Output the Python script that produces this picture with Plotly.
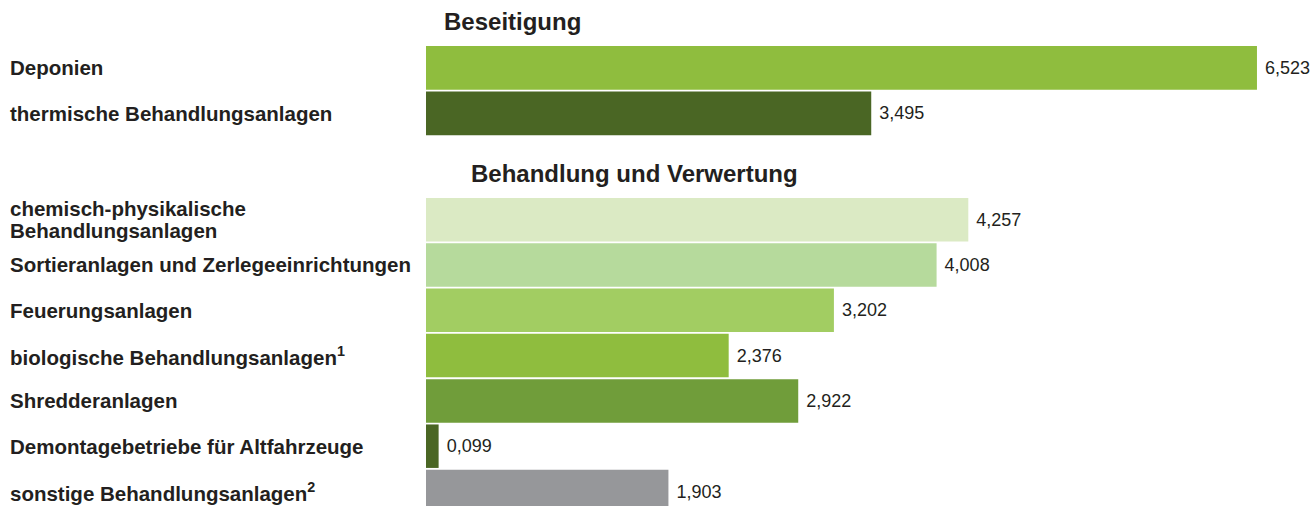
import plotly.graph_objects as go
from plotly.subplots import make_subplots

# Beseitigung
disp_labels = ["Deponien", "thermische Behandlungsanlagen"]
disp_values = [6.523, 3.495]
disp_colors = ["#8fbd3e", "#4a6624"]

# Behandlung und Verwertung
treat_labels = [
    "chemisch-physikalische<br>Behandlungsanlagen",
    "Sortieranlagen und Zerlegeeinrichtungen",
    "Feuerungsanlagen",
    "biologische Behandlungsanlagen<sup>1</sup>",
    "Shredderanlagen",
    "Demontagebetriebe für Altfahrzeuge",
    "sonstige Behandlungsanlagen<sup>2</sup>",
]
treat_values = [4.257, 4.008, 3.202, 2.376, 2.922, 0.099, 1.903]
treat_colors = ["#dbeac4", "#b6da9c", "#a2cd62", "#8fbd3e", "#709d3a", "#4a6624", "#96979a"]

section_titles = ["Beseitigung", "Behandlung und Verwertung"]

FONT = "Liberation Sans, Arial, sans-serif"
TXT = "#231f20"
LINE_H = 22  # tighter line spacing for wrapped category labels

fig = make_subplots(rows=2, cols=1, vertical_spacing=0.0)

fig.add_trace(go.Bar(
    x=disp_values, y=disp_labels, orientation="h",
    marker=dict(color=disp_colors, line=dict(width=0)),
    texttemplate="\u00a0%{x:.3f}", textposition="outside", cliponaxis=False,
    textfont=dict(family=FONT, size=18, color=TXT),
), row=1, col=1)

fig.add_trace(go.Bar(
    x=treat_values, y=treat_labels, orientation="h",
    marker=dict(color=treat_colors, line=dict(width=0)),
    texttemplate="\u00a0%{x:.3f}", textposition="outside", cliponaxis=False,
    textfont=dict(family=FONT, size=18, color=TXT),
), row=2, col=1)


def label_annotations(labels, yref):
    out = []
    for lab in labels:
        lines = lab.split("<br>")
        n = len(lines)
        for i, line in enumerate(lines):
            out.append(dict(x=0.0061, xref="paper", y=lab, yref=yref,
                            yshift=((n - 1) / 2 - i) * LINE_H,
                            text="<b>" + line + "</b>", xanchor="left", showarrow=False,
                            font=dict(family=FONT, size=20.5, color=TXT)))
    return out


annotations = label_annotations(disp_labels, "y") + label_annotations(treat_labels, "y2")

annotations.append(dict(x=0.3369, y=0.957, xref="paper", yref="paper", text="<b>" + section_titles[0] + "</b>",
                        xanchor="left", yanchor="middle", showarrow=False,
                        font=dict(family=FONT, size=24, color=TXT)))
annotations.append(dict(x=0.3575, y=0.658, xref="paper", yref="paper", text="<b>" + section_titles[1] + "</b>",
                        xanchor="left", yanchor="middle", showarrow=False,
                        font=dict(family=FONT, size=24, color=TXT)))

axis_common = dict(showgrid=False, zeroline=False, showticklabels=False, showline=False, ticks="")

fig.update_layout(
    width=1312, height=506,
    margin=dict(l=0, r=0, t=0, b=0),
    paper_bgcolor="white", plot_bgcolor="white",
    showlegend=False, bargap=0.04,
    separators=",.",
    annotations=annotations,
    xaxis=dict(domain=[0.3247, 1], range=[0, 6.955], **axis_common),
    xaxis2=dict(domain=[0.3247, 1], range=[0, 6.955], **axis_common),
    yaxis=dict(domain=[0.731, 0.911], range=[1.5, -0.5], **axis_common),
    yaxis2=dict(domain=[0.0, 0.6107], range=[6.32, -0.5], **axis_common),
)

# page body has a default margin; drop it so the figure sits at the window corner
fig.write_html("out.html", config={"displayModeBar": False},
               post_script="document.body.style.margin='0';")
